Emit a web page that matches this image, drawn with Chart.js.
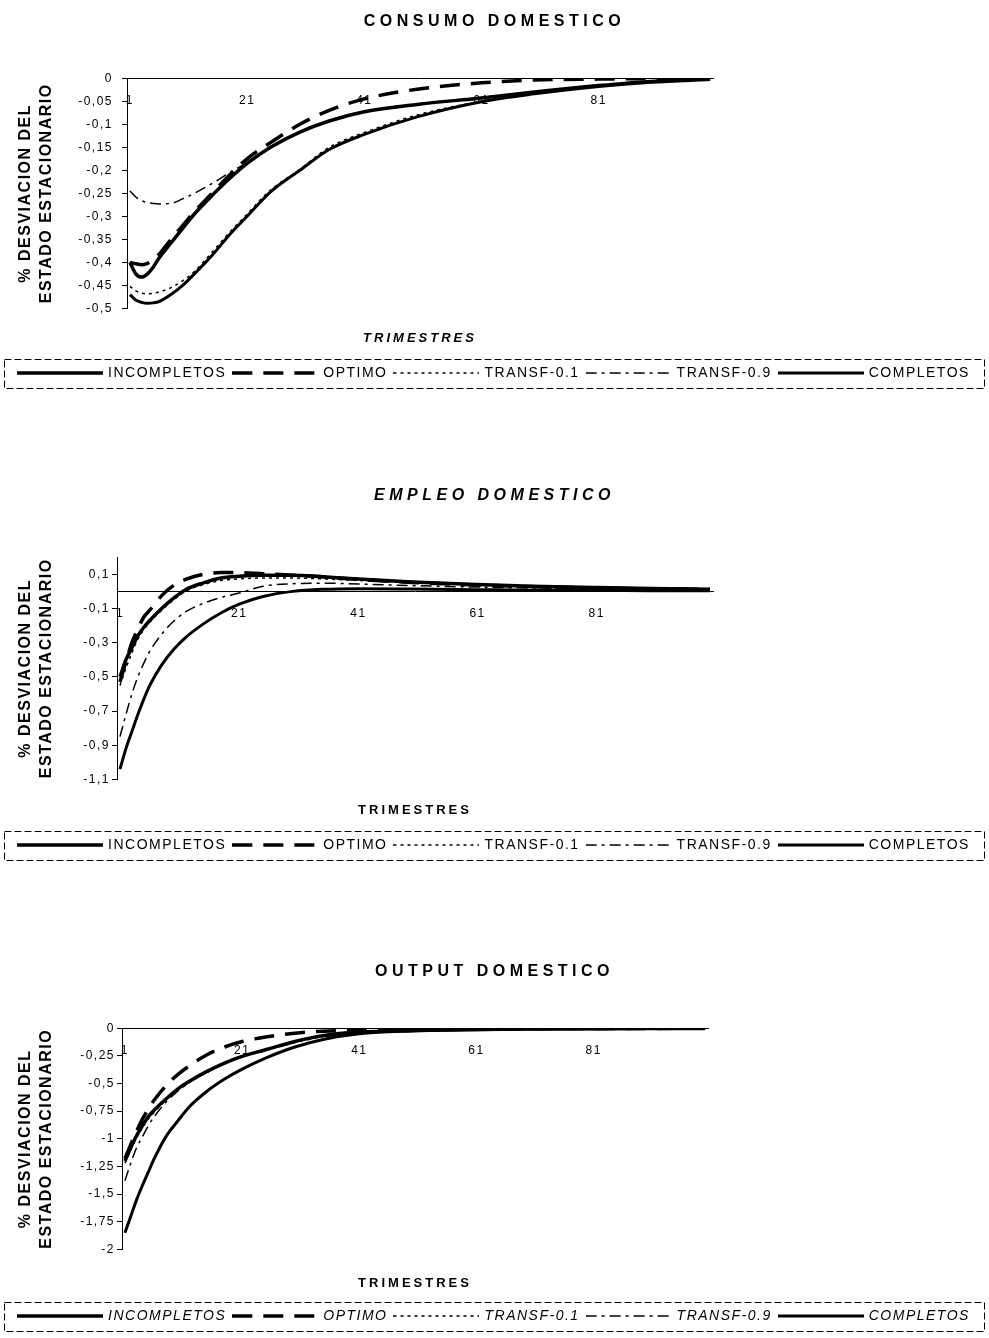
<!DOCTYPE html>
<html lang="es">
<head>
  <meta charset="UTF-8">
  <title>Consumo, empleo y output domestico</title>
  <script src="https://cdn.jsdelivr.net/npm/chart.js"></script>
  <style>
    body { margin: 0; background: #fff; }
    .grafico { position: absolute; left: 0; }
  </style>
</head>
<body>
  <div class="grafico" style="top:0px"><canvas id="chartConsumo" width="989" height="390"></canvas></div>
  <div class="grafico" style="top:474px"><canvas id="chartEmpleo" width="989" height="388"></canvas></div>
  <div class="grafico" style="top:950px"><canvas id="chartOutput" width="989" height="383"></canvas></div>

  <script>
    // Trimestres en los que se leyeron los valores de las curvas
    const periodos = [1, 2, 3, 4, 5, 6, 8, 10, 12, 15, 18, 21, 25, 30, 35, 41, 50, 61, 70, 81, 90, 100];
    const series = ['INCOMPLETOS', 'OPTIMO', 'TRANSF-0.1', 'TRANSF-0.9', 'COMPLETOS'];

    // Etiquetas del eje X
    const ticksX = [1, 21, 41, 61, 81];
    const etiquetasX = ['1', '21', '41', '61', '81'];

    // CONSUMO DOMESTICO
    const consumoIncompletos = [-0.400, -0.425, -0.432, -0.425, -0.410, -0.390, -0.358, -0.326, -0.295, -0.255, -0.218, -0.185, -0.150, -0.117, -0.093, -0.073, -0.057, -0.043, -0.030, -0.016, -0.007, -0.002];
    const consumoOptimo = [-0.400, -0.403, -0.405, -0.402, -0.395, -0.382, -0.350, -0.320, -0.290, -0.250, -0.210, -0.175, -0.140, -0.100, -0.070, -0.045, -0.024, -0.010, -0.004, -0.002, -0.001, -0.001];
    const consumoTransf01 = [-0.452, -0.462, -0.467, -0.468, -0.467, -0.464, -0.455, -0.440, -0.420, -0.378, -0.335, -0.295, -0.243, -0.198, -0.150, -0.118, -0.080, -0.050, -0.033, -0.017, -0.008, -0.003];
    const consumoTransf09 = [-0.245, -0.258, -0.266, -0.270, -0.272, -0.273, -0.272, -0.262, -0.250, -0.229, -0.205, -0.183, -0.150, -0.117, -0.092, -0.072, -0.056, -0.042, -0.030, -0.016, -0.007, -0.002];
    const consumoCompletos = [-0.470, -0.482, -0.487, -0.489, -0.488, -0.485, -0.470, -0.450, -0.425, -0.385, -0.340, -0.300, -0.247, -0.200, -0.155, -0.122, -0.084, -0.051, -0.034, -0.018, -0.009, -0.003];
    const ticksConsumo = [0, -0.05, -0.1, -0.15, -0.2, -0.25, -0.3, -0.35, -0.4, -0.45, -0.5];
    const etiquetasConsumo = ['0', '-0,05', '-0,1', '-0,15', '-0,2', '-0,25', '-0,3', '-0,35', '-0,4', '-0,45', '-0,5'];

    // EMPLEO DOMESTICO
    const empleoIncompletos = [-0.50, -0.40, -0.33, -0.26, -0.21, -0.17, -0.10, -0.04, 0.01, 0.05, 0.078, 0.088, 0.094, 0.094, 0.085, 0.072, 0.055, 0.040, 0.030, 0.022, 0.017, 0.013];
    const empleoOptimo = [-0.53, -0.41, -0.30, -0.22, -0.15, -0.11, -0.025, 0.035, 0.07, 0.10, 0.11, 0.11, 0.103, 0.095, 0.085, 0.070, 0.052, 0.037, 0.028, 0.020, 0.015, 0.012];
    const empleoTransf01 = [-0.55, -0.45, -0.36, -0.28, -0.225, -0.18, -0.11, -0.05, 0.0, 0.04, 0.063, 0.073, 0.078, 0.078, 0.073, 0.064, 0.050, 0.037, 0.028, 0.020, 0.016, 0.012];
    const empleoTransf09 = [-0.85, -0.72, -0.60, -0.50, -0.42, -0.35, -0.25, -0.175, -0.12, -0.07, -0.035, -0.01, 0.03, 0.045, 0.048, 0.043, 0.034, 0.025, 0.020, 0.015, 0.012, 0.010];
    const empleoCompletos = [-1.04, -0.92, -0.82, -0.72, -0.63, -0.55, -0.43, -0.34, -0.27, -0.19, -0.125, -0.075, -0.03, 0.0, 0.012, 0.016, 0.014, 0.010, 0.007, 0.005, 0.004, 0.003];
    const ticksEmpleo = [0.1, -0.1, -0.3, -0.5, -0.7, -0.9, -1.1];
    const etiquetasEmpleo = ['0,1', '-0,1', '-0,3', '-0,5', '-0,7', '-0,9', '-1,1'];

    // OUTPUT DOMESTICO
    const outputIncompletos = [-1.20, -1.08, -0.97, -0.88, -0.80, -0.74, -0.64, -0.55, -0.48, -0.39, -0.315, -0.255, -0.195, -0.12, -0.065, -0.035, -0.020, -0.012, -0.008, -0.005, -0.003, -0.002];
    const outputOptimo = [-1.18, -1.05, -0.93, -0.82, -0.73, -0.65, -0.52, -0.42, -0.34, -0.24, -0.17, -0.12, -0.08, -0.045, -0.027, -0.016, -0.010, -0.006, -0.004, -0.003, -0.002, -0.001];
    const outputTransf01 = [-1.22, -1.10, -0.99, -0.90, -0.82, -0.76, -0.65, -0.56, -0.49, -0.40, -0.32, -0.26, -0.20, -0.13, -0.075, -0.042, -0.024, -0.013, -0.008, -0.005, -0.003, -0.002];
    const outputTransf09 = [-1.38, -1.22, -1.08, -0.98, -0.88, -0.80, -0.67, -0.57, -0.49, -0.39, -0.31, -0.25, -0.19, -0.125, -0.075, -0.045, -0.025, -0.013, -0.008, -0.004, -0.002, -0.001];
    const outputCompletos = [-1.85, -1.70, -1.55, -1.42, -1.30, -1.18, -0.98, -0.84, -0.71, -0.57, -0.46, -0.37, -0.27, -0.17, -0.10, -0.05, -0.025, -0.013, -0.008, -0.005, -0.003, -0.002];
    const ticksOutput = [0, -0.25, -0.5, -0.75, -1, -1.25, -1.5, -1.75, -2];
    const etiquetasOutput = ['0', '-0,25', '-0,5', '-0,75', '-1', '-1,25', '-1,5', '-1,75', '-2'];

    Chart.defaults.font.family = "'Liberation Sans', Arial, sans-serif";
    Chart.defaults.color = '#000';

    // Estilo de cada serie (mismo orden que "series")
    const estilos = [
      { borderWidth: 3.5, borderDash: [] },
      { borderWidth: 3.5, borderDash: [20, 11] },
      { borderWidth: 1.5, borderDash: [3, 4] },
      { borderWidth: 1.5, borderDash: [11, 5, 3, 5] },
      { borderWidth: 3, borderDash: [] }
    ];

    // Muestras de linea para la leyenda (el legend de Chart.js no aplica el guion con pointStyle)
    const muestras = estilos.map(e => {
      const c = document.createElement('canvas');
      c.width = 86;
      c.height = 6;
      const g = c.getContext('2d');
      g.strokeStyle = '#000';
      g.lineWidth = e.borderWidth;
      g.setLineDash(e.borderDash);
      g.beginPath();
      g.moveTo(0, 3);
      g.lineTo(86, 3);
      g.stroke();
      return c;
    });

    // Texto un poco espaciado, como en el original
    function espaciar(caja, espacio) {
      if (!caja) return;
      const dibujar = caja.draw;
      caja.draw = function (area) {
        this.ctx.save();
        this.ctx.letterSpacing = espacio;
        dibujar.call(this, area);
        this.ctx.restore();
      };
    }

    const espaciado = {
      id: 'espaciado',
      afterInit(chart) {
        espaciar(chart.titleBlock, '4.5px');
        espaciar(chart.boxes.find(b => b !== chart.titleBlock && b.options && b.options.text === 'TRIMESTRES'), '3px');
      },
      beforeUpdate(chart) { chart.ctx.letterSpacing = '1.5px'; },
      beforeDraw(chart) { chart.ctx.letterSpacing = '1.5px'; }
    };

    // Marco alrededor de la leyenda
    const marcoLeyenda = {
      id: 'marcoLeyenda',
      afterDraw(chart) {
        const l = chart.legend;
        const ctx = chart.ctx;
        ctx.save();
        ctx.strokeStyle = '#000';
        ctx.lineWidth = 1;
        ctx.setLineDash([7, 3]);
        ctx.strokeRect(l.left + 4.5, l.top + 1.5, l.width - 9, l.height - 3);
        ctx.restore();
      }
    };

    function crearGrafico(id, titulo, valores, ticksY, etiquetasY, cfg) {
      const datasets = series.map((nombre, i) => ({
        label: nombre,
        data: periodos.map((p, j) => ({ x: p, y: valores[i][j] })),
        borderColor: '#000',
        backgroundColor: '#000',
        borderWidth: estilos[i].borderWidth,
        borderDash: estilos[i].borderDash,
        pointRadius: 0,
        fill: false,
        cubicInterpolationMode: 'monotone',
        yAxisID: 'y'
      }));

      return new Chart(document.getElementById(id), {
        type: 'line',
        data: { datasets: datasets },
        plugins: [espaciado, marcoLeyenda],
        options: {
          responsive: false,
          animation: false,
          layout: { padding: 0 },
          plugins: {
            title: {
              display: true,
              text: titulo,
              font: { size: 16, weight: 'bold', style: cfg.tituloEstilo || 'normal' },
              padding: cfg.tituloPad
            },
            subtitle: {
              display: true,
              position: 'bottom',
              text: 'TRIMESTRES',
              fullSize: false,
              weight: 500,
              font: { size: 13, weight: 'bold', style: cfg.subEstilo || 'normal' },
              padding: cfg.subPad
            },
            legend: {
              position: 'bottom',
              labels: {
                usePointStyle: true,
                pointStyleWidth: 82,
                padding: 8,
                font: { size: 14, style: cfg.leyendaEstilo || 'normal' },
                generateLabels: chart => Chart.defaults.plugins.legend.labels.generateLabels(chart)
                  .map((item, i) => Object.assign(item, { pointStyle: muestras[i] }))
              }
            },
            tooltip: { enabled: false }
          },
          scales: {
            x: {
              type: 'linear',
              position: { y: 0 },
              min: 0.5,
              max: 100.5,
              grid: { display: false, drawTicks: false },
              border: { display: true, color: '#000', width: 1 },
              afterBuildTicks: s => { s.ticks = ticksX.map(v => ({ value: v })); },
              ticks: {
                padding: 15,
                font: { size: 12 },
                callback: (v, i) => etiquetasX[i]
              }
            },
            y: {
              position: 'left',
              min: cfg.minY,
              max: cfg.maxY,
              afterBuildTicks: s => { s.ticks = ticksY.map(v => ({ value: v })); },
              afterFit: s => { s.width = cfg.anchoY; },
              grid: { drawOnChartArea: false, drawTicks: true, tickLength: 5, color: '#000' },
              border: { display: true, color: '#000', width: 1 },
              ticks: {
                padding: cfg.padTicksY,
                font: { size: 12 },
                callback: (v, i) => etiquetasY[i]
              },
              title: {
                display: true,
                text: ['% DESVIACION DEL', 'ESTADO ESTACIONARIO'],
                font: { size: 16, weight: 'bold', lineHeight: 1.3 },
                padding: { top: 15, bottom: 0 }
              }
            },
            der: {
              position: 'right',
              grid: { display: false },
              border: { display: false },
              ticks: { display: false },
              afterFit: s => { s.width = cfg.anchoDer; }
            }
          }
        }
      });
    }

    crearGrafico('chartConsumo', 'CONSUMO DOMESTICO',
      [consumoIncompletos, consumoOptimo, consumoTransf01, consumoTransf09, consumoCompletos],
      ticksConsumo, etiquetasConsumo,
      { minY: -0.5, maxY: 0, anchoY: 127, anchoDer: 276, padTicksY: 9,
        tituloPad: { top: 12, bottom: 47 }, subPad: { top: 22, bottom: 12 }, subEstilo: 'italic' });

    crearGrafico('chartEmpleo', 'EMPLEO DOMESTICO',
      [empleoIncompletos, empleoOptimo, empleoTransf01, empleoTransf09, empleoCompletos],
      ticksEmpleo, etiquetasEmpleo,
      { minY: -1.1, maxY: 0.2, anchoY: 117, anchoDer: 276, padTicksY: 2,
        tituloPad: { top: 12, bottom: 52 }, subPad: { top: 23, bottom: 12 }, tituloEstilo: 'italic' });

    crearGrafico('chartOutput', 'OUTPUT DOMESTICO',
      [outputIncompletos, outputOptimo, outputTransf01, outputTransf09, outputCompletos],
      ticksOutput, etiquetasOutput,
      { minY: -2, maxY: 0, anchoY: 122, anchoDer: 281, padTicksY: 2,
        tituloPad: { top: 12, bottom: 47 }, subPad: { top: 26, bottom: 10 }, leyendaEstilo: 'italic' });
  </script>
</body>
</html>
